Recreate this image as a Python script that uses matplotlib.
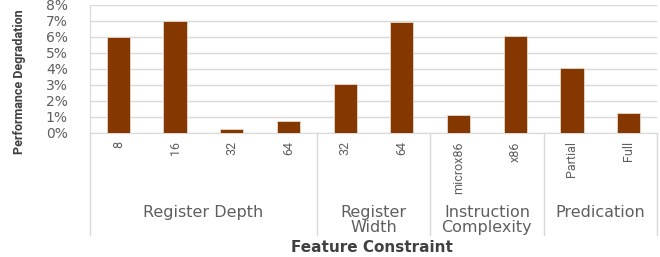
import matplotlib
matplotlib.use("Agg")
import matplotlib.pyplot as plt
from matplotlib.transforms import blended_transform_factory

# data (percent)
groups = ["Register Depth", "Register\nWidth", "Instruction\nComplexity", "Predication"]
group_items = [["8", "16", "32", "64"], ["32", "64"], ["microx86", "x86"], ["Partial", "Full"]]
values = [6.0, 7.0, 0.23, 0.75, 3.04, 6.96, 1.13, 6.06, 4.09, 1.28]
yticks = [0, 1, 2, 3, 4, 5, 6, 7, 8]

BAR = "#843800"
GRID = "#d9d9d9"
TXT = "#5f5f5f"

plt.rcParams["font.family"] = ["DejaVu Sans"]

fig = plt.figure(figsize=(6.6, 2.57), dpi=100)
ax = fig.add_axes([90 / 660, 1 - 133 / 257, 567 / 660, 128 / 257])

labels = [c for g in group_items for c in g]
xs = list(range(len(labels)))
ax.bar(xs, values, width=0.41, color=BAR, edgecolor="#e8d8cc", linewidth=0.6, zorder=3)

ax.set_xlim(-0.5, len(labels) - 0.5)
ax.set_ylim(0, 8)
ax.set_yticks(yticks)
ax.set_yticklabels([f"{t}%" for t in yticks], color=TXT, fontsize=10)
ax.yaxis.grid(True, color=GRID, linewidth=1, zorder=0)
ax.tick_params(axis="y", length=0, pad=16)
ax.tick_params(axis="x", length=0, pad=6)
ax.set_xticks(xs)
ax.set_xticklabels(labels, rotation=90, color=TXT, fontsize=10, va="top",
                   family=["Roboto", "DejaVu Sans"])

for s in ["top", "right"]:
    ax.spines[s].set_visible(False)
ax.spines["left"].set_color(GRID)
ax.spines["bottom"].set_color(GRID)

# group separators and labels below the axis
tr = blended_transform_factory(ax.transData, ax.transAxes)
start = 0
edges = [-0.5]
for g, items in zip(groups, group_items):
    end = start + len(items)
    edges.append(end - 0.5)
    ax.text((start + end - 1) / 2, -0.565, g, transform=tr, ha="center", va="top",
            color=TXT, fontsize=11.5, linespacing=1.0)
    start = end
for e in edges:
    ax.plot([e, e], [0, -0.797], transform=tr, color=GRID, linewidth=1, clip_on=False)

ylab = fig.text(20 / 660, 1 - 82 / 257, "Performance Degradation", rotation=90,
                ha="center", va="center", fontsize=10.5, fontweight="bold",
                color="#404040", family=["Roboto", "DejaVu Sans"])
# shrink the y label and the rotated ticks until they fit the reference sizes
fig.canvas.draw()
r = fig.canvas.get_renderer()
while ylab.get_window_extent(r).height > 146 and ylab.get_fontsize() > 6:
    ylab.set_fontsize(ylab.get_fontsize() - 0.25)
micro = ax.get_xticklabels()[labels.index("microx86")]
while micro.get_window_extent(r).height > 53 and micro.get_fontsize() > 6:
    for t in ax.get_xticklabels():
        t.set_fontsize(t.get_fontsize() - 0.25)
    fig.canvas.draw()

fig.text(372 / 660, 1 - 252 / 257, "Feature Constraint", ha="center", va="baseline",
         fontsize=11, fontweight="bold", color="#404040")

fig.savefig("out.png", dpi=100)
